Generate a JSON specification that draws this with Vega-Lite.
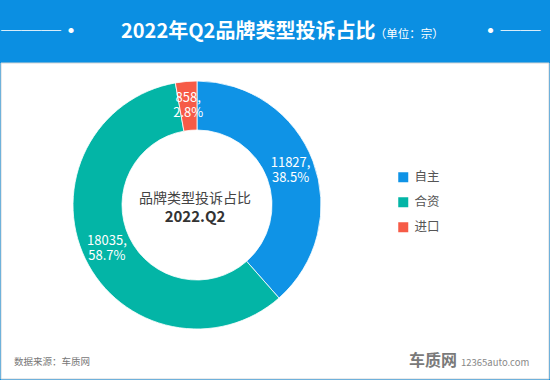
{
  "$schema": "https://vega.github.io/schema/vega-lite/v6.json",
  "width": 550,
  "height": 380,
  "autosize": {"type": "fit", "contains": "padding"},
  "padding": {"top": 21, "left": 0, "right": 0, "bottom": 0},
  "background": "#0B8FE2",
  "config": {
    "view": {"stroke": null},
    "font": "Noto Sans CJK SC"
  },
  "title": {
    "text": "\u2500\u2500\u2500\u2022\u2003\u20032022年Q2品牌类型投诉占比\u2003\u2003\u2003\u2003\u2003\u2005\u2022\u2500\u2500",
    "subtitle": "\u200B\u2003\u2003\u2003\u2003\u2003\u2003\u2003\u2003\u2003\u2003\u2003\u2003\u2003\u2003\u2003\u2003\u2003\u2003\u2003\u2003\u2003\u2003\u2003\u2003\u2003\u2003\u2003\u2003\u2003\u2003\u2003\u2003\u2002（单位：宗）",
    "anchor": "start",
    "frame": "group",
    "dx": 0,
    "offset": 21,
    "font": "Noto Sans CJK SC",
    "fontSize": 20,
    "fontWeight": "bold",
    "color": "#ffffff",
    "subtitleFont": "Noto Sans CJK SC",
    "subtitleFontSize": 11.5,
    "subtitleColor": "#ffffff",
    "subtitlePadding": -13
  },
  "data": {
    "values": [
      {"type": "自主", "value": 11827, "label": "11827,\n38.5%", "idx": 1},
      {"type": "合资", "value": 18035, "label": "18035,\n58.7%", "idx": 2},
      {"type": "进口", "value": 858, "label": "858,\n2.8%", "idx": 3}
    ]
  },
  "layer": [
    {
      "data": {"values": [{"bg": 1}]},
      "mark": {"type": "rect", "fill": "#ffffff", "stroke": "#d4d4d4", "strokeWidth": 1},
      "encoding": {}
    },
    {
      "mark": {"type": "arc", "outerRadius": 124, "innerRadius": 75, "xOffset": -78, "yOffset": -16, "stroke": "#ffffff", "strokeWidth": 0.8},
      "encoding": {
        "theta": {"field": "value", "type": "quantitative", "stack": true},
        "order": {"field": "idx", "type": "quantitative"},
        "color": {
          "field": "type",
          "type": "nominal",
          "scale": {"domain": ["自主", "合资", "进口"], "range": ["#0F93E6", "#03B5A6", "#F65B47"]},
          "legend": {
            "title": null,
            "orient": "none",
            "legendX": 396,
            "legendY": 108,
            "symbolType": "square",
            "symbolSize": 100,
            "symbolStrokeWidth": 0,
            "labelFontSize": 12.5,
            "labelColor": "#555555",
            "labelFont": "Noto Sans CJK SC",
            "labelOffset": 5,
            "rowPadding": 12,
            "padding": 0
          }
        }
      }
    },
    {
      "mark": {"type": "text", "radius": 100, "xOffset": -78, "yOffset": -16, "dy": -7, "fill": "#ffffff", "fontSize": 13, "lineBreak": "\n", "align": "center", "baseline": "middle", "lineHeight": 15},
      "encoding": {
        "theta": {"field": "value", "type": "quantitative", "stack": true},
        "order": {"field": "idx", "type": "quantitative"},
        "text": {"field": "label", "type": "nominal"}
      }
    },
    {
      "data": {"values": [{"t": "品牌类型投诉占比"}]},
      "mark": {"type": "text", "fontSize": 14, "fill": "#444444", "dx": -80, "dy": -22, "align": "center", "baseline": "middle"},
      "encoding": {"text": {"field": "t", "type": "nominal"}}
    },
    {
      "data": {"values": [{"t": "2022.Q2"}]},
      "mark": {"type": "text", "fontSize": 15, "fontWeight": "bold", "fill": "#333333", "dx": -80, "dy": -4, "align": "center", "baseline": "middle"},
      "encoding": {"text": {"field": "t", "type": "nominal"}}
    },
    {
      "data": {"values": [{"t": "数据来源：车质网"}]},
      "mark": {"type": "text", "fontSize": 9.5, "fill": "#777777", "dx": -261, "dy": 141, "align": "left", "baseline": "middle"},
      "encoding": {"text": {"field": "t", "type": "nominal"}}
    },
    {
      "data": {"values": [{"t": "车质网"}]},
      "mark": {"type": "text", "fontSize": 16, "fontWeight": "bold", "fill": "#7a7a7a", "dx": 134, "dy": 140, "align": "left", "baseline": "middle"},
      "encoding": {"text": {"field": "t", "type": "nominal"}}
    },
    {
      "data": {"values": [{"t": "12365auto.com"}]},
      "mark": {"type": "text", "fontSize": 9.5, "fill": "#888888", "dx": 186, "dy": 142, "align": "left", "baseline": "middle"},
      "encoding": {"text": {"field": "t", "type": "nominal"}}
    }
  ]
}
